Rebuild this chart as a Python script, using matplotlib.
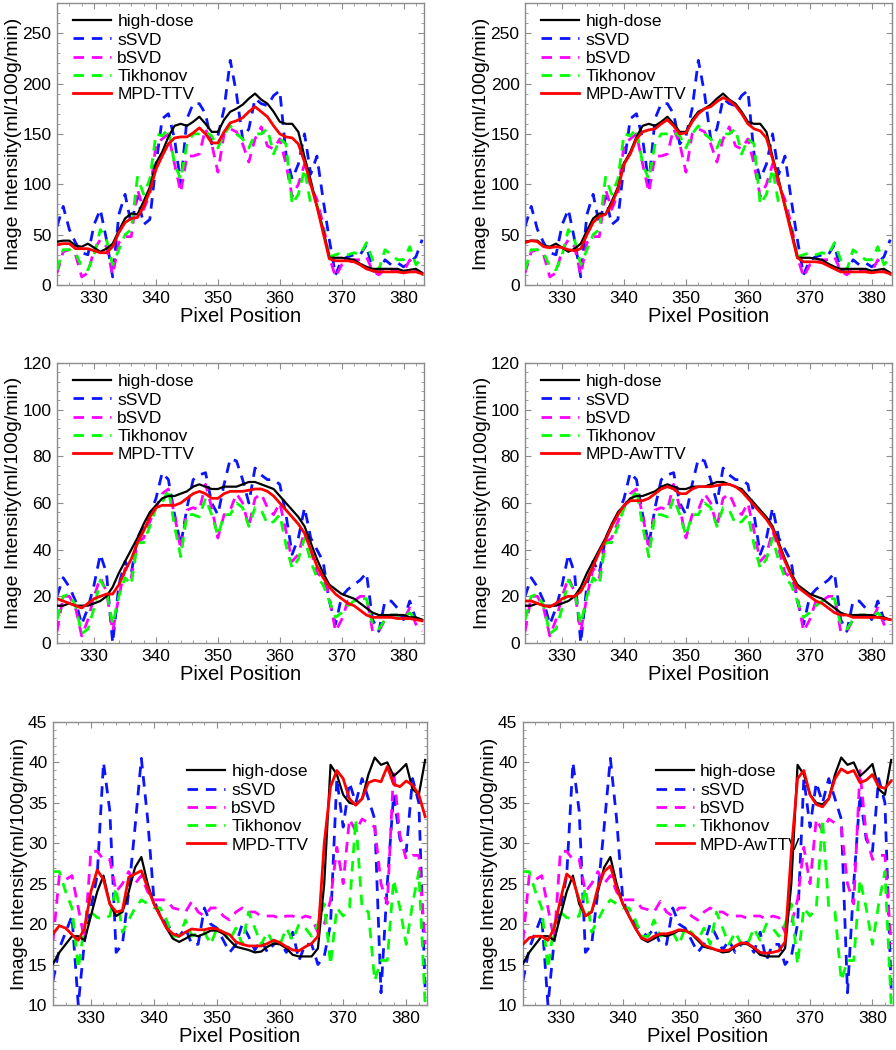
import matplotlib.pyplot as plt
import numpy as np
from matplotlib.ticker import MultipleLocator

plt.rcParams["font.family"] = ["Liberation Sans", "DejaVu Sans"]

x_pixels = np.arange(324, 384)

# ---- top row (0-280 scale)
hd_top = [43, 44, 44, 39, 38, 41, 37, 33, 36, 41,
          54, 66, 71, 70, 83, 97, 121, 132, 147, 158,
          160, 158, 162, 167, 160, 152, 152, 164, 172, 175,
          179, 185, 190, 184, 180, 172, 162, 160, 160, 152,
          127, 104, 78, 55, 27, 27, 27, 26, 25, 21,
          18, 16, 16, 16, 16, 16, 14, 15, 16, 12]
ssvd_top = [58, 78, 55, 42, 32, 30, 60, 75, 45, 8,
            70, 90, 60, 88, 60, 65, 120, 165, 170, 145,
            100, 165, 180, 180, 170, 140, 148, 175, 223, 190,
            145, 155, 185, 180, 178, 188, 193, 130, 105, 120,
            150, 110, 128, 85, 45, 10, 25, 28, 30, 30,
            40, 14, 13, 25, 20, 22, 18, 22, 28, 45]
bsvd_top = [12, 33, 35, 30, 8, 12, 35, 45, 38, 10,
            42, 48, 48, 95, 75, 90, 140, 145, 150, 120,
            92, 128, 128, 130, 155, 140, 112, 150, 155, 152,
            140, 122, 145, 157, 138, 135, 145, 120, 88, 100,
            120, 98, 85, 60, 28, 8, 20, 22, 25, 25,
            28, 14, 10, 16, 14, 15, 13, 25, 14, 12]
tik_top = [15, 35, 35, 32, 18, 15, 30, 55, 45, 20,
           35, 50, 55, 107, 90, 105, 150, 148, 155, 120,
           105, 140, 150, 150, 152, 148, 136, 150, 158, 150,
           145, 136, 150, 150, 155, 130, 145, 140, 80, 90,
           115, 80, 80, 55, 28, 30, 32, 30, 32, 30,
           42, 25, 15, 35, 30, 25, 25, 38, 20, 27]
ttv_top = [40, 41, 41, 36, 36, 36, 34, 32, 32, 38,
           52, 62, 66, 67, 78, 93, 115, 128, 140, 146,
           147, 147, 151, 156, 150, 141, 141, 152, 161, 163,
           166, 172, 177, 172, 167, 158, 150, 147, 146, 140,
           122, 100, 78, 52, 26, 24, 24, 24, 23, 20,
           16, 14, 13, 13, 13, 13, 12, 13, 13, 11]
awttv_top = [42, 44, 43, 38, 37, 38, 37, 35, 34, 36,
             50, 62, 68, 70, 80, 95, 120, 130, 145, 152,
             154, 155, 160, 164, 158, 150, 151, 162, 170, 175,
             177, 182, 186, 183, 178, 170, 160, 155, 153, 146,
             125, 102, 78, 52, 27, 23, 23, 23, 22, 19,
             16, 13, 13, 13, 13, 13, 12, 13, 13, 11]

# ---- middle row (0-120 scale)
hd_mid = [16, 16, 17, 16, 16, 16, 17, 18, 20, 24,
          30, 35, 40, 45, 51, 56, 59, 62, 63, 63,
          64, 65, 67, 68, 67, 66, 66, 67, 67, 67,
          68, 69, 69, 68, 67, 66, 63, 60, 57, 54,
          50, 43, 36, 30, 25, 23, 21, 20, 19, 17,
          15, 13, 12, 12, 12, 12, 12, 11, 11, 10]
ssvd_mid = [20, 28, 24, 18, 8, 15, 25, 38, 30, 0,
            25, 35, 30, 45, 50, 55, 62, 73, 70, 55,
            42, 58, 70, 72, 73, 60, 55, 68, 79, 78,
            70, 60, 75, 72, 70, 70, 68, 55, 38, 45,
            58, 45, 40, 35, 18, 8, 20, 23, 25, 27,
            30, 10, 5, 18, 18, 15, 10, 18, 10, 12]
bsvd_mid = [5, 20, 20, 15, 3, 10, 20, 28, 22, 5,
            20, 32, 28, 43, 45, 52, 58, 64, 66, 55,
            40, 57, 58, 57, 68, 58, 45, 55, 57, 64,
            60, 50, 62, 64, 58, 55, 60, 48, 35, 38,
            48, 40, 30, 28, 20, 5, 10, 18, 18, 20,
            20, 5, 5, 10, 12, 12, 10, 15, 8, 5]
tik_mid = [10, 20, 21, 16, 4, 6, 15, 27, 22, 8,
           20, 28, 25, 43, 43, 50, 58, 60, 66, 50,
           37, 55, 55, 54, 62, 55, 46, 55, 55, 60,
           58, 50, 58, 57, 51, 52, 55, 42, 32, 36,
           45, 35, 28, 25, 18, 11, 13, 16, 18, 19,
           19, 8, 6, 10, 12, 12, 11, 13, 10, 10]
ttv_mid = [19, 18, 17, 16, 15, 17, 19, 20, 21, 21,
           25, 31, 36, 43, 48, 54, 58, 59, 59, 59,
           60, 62, 64, 65, 64, 62, 62, 64, 65, 65,
           65, 65.5, 66, 66, 65, 63, 60, 57, 54, 51,
           47, 40, 33, 28, 24, 21, 19, 17, 16, 14,
           12, 11, 11, 11, 11, 10.5, 10.5, 10.5, 10, 9.5]
awttv_mid = [18, 18, 17, 16, 15.5, 17, 19, 20, 20, 22,
             27, 33, 39, 44, 50, 55, 59, 61, 61, 61,
             62, 64, 66, 67, 66, 64, 64, 66, 67, 67,
             67, 67.5, 68, 68, 67, 65, 62, 59, 56, 53,
             49, 42, 35, 29, 24, 22, 20, 18, 17, 15,
             13, 12, 12, 11, 11, 11, 11, 11, 10.5, 10]

# ---- bottom row (10-45 scale)
hd_bot = [15.1, 16.5, 17.5, 18.5, 18.5, 18, 21, 24, 26, 22.5,
          21, 21.5, 24, 27, 28.3, 25, 22.5, 21, 19.5, 18.2,
          17.8, 18.2, 18.7, 18.5, 18.8, 19.2, 19.2, 18.8, 18, 17.2,
          17, 16.8, 16.5, 16.6, 17.2, 17.6, 17.5, 17, 16.2, 16,
          16, 16, 17, 25, 39.7, 38.5, 36, 35, 34.8, 35.5,
          38.5, 40.6, 39.7, 40, 38.3, 39, 39.8, 36.7, 36, 40.3]
ssvd_bot = [13, 17, 19, 21, 10, 18, 22, 26, 40, 34,
            16.5, 17.5, 24, 32, 40.5, 33, 23, 21, 20, 19,
            18.5, 19.5, 17.5, 17.5, 22, 20, 19.5, 18, 16.5, 17.5,
            20, 18.5, 16.8, 18, 16.5, 17.5, 17.8, 16.5, 19, 15.5,
            17.5, 17.5, 15, 16, 20, 38, 32, 37.5, 35, 38,
            35.5, 33, 11.5, 25, 36, 30.5, 29, 38, 35, 12]
bsvd_bot = [18, 26, 25.5, 26, 22, 18, 29, 29, 28, 28,
            24, 25, 26.5, 25, 26, 24, 23, 23, 23, 22,
            21.8, 21.5, 22.8, 21.5, 21, 22, 22, 21, 20.5, 21.5,
            22, 21.5, 21.5, 21, 21, 21, 20.7, 21, 21, 20.6,
            21, 20.8, 19, 20, 23, 29.5, 25, 33, 31.5, 33,
            32.5, 32, 25, 22.5, 39, 31, 28, 28.5, 28.5, 17.5]
tik_bot = [26.5, 26.5, 24, 22, 14.5, 20, 21.5, 20.8, 20.7, 21,
           24.5, 19, 20.5, 22, 23, 22.5, 22, 22, 20.5, 18.5,
           18.5, 20.5, 18.5, 19, 19, 17.5, 19.5, 19, 18, 19.5,
           17.5, 21.5, 19.5, 17.5, 19, 17.5, 17.5, 19.5, 18, 20,
           19.5, 18.5, 20, 22.5, 15, 22, 21, 22, 33, 22,
           21.5, 13, 15.5, 15.5, 25.5, 22, 17.5, 22.5, 26.5, 10]
ttv_bot = [18.8, 19.8, 19.5, 18.7, 18, 19.5, 24, 26.7, 25.5, 22.5,
           21.5, 21.7, 25.8, 26.2, 26.6, 24.5, 22.5, 21, 19.5, 18.8,
           18.5, 19, 19.4, 19.3, 19.3, 19.5, 19.4, 19, 18.7, 17.8,
           17.5, 17.3, 17.3, 17.3, 17.6, 18, 17.7, 17.2, 16.8, 16.7,
           17.2, 17.6, 18.5, 30, 37, 39, 38, 35.5, 34.7, 35.5,
           37.5, 37.8, 37.6, 39.5, 37.3, 37, 37.7, 37.2, 36, 33.3]
awttv_bot = [17.5, 18.3, 18.5, 18.5, 18, 19.5, 23, 26.2, 25.5, 23,
             21, 21.5, 24.5, 26.5, 27.2, 24.5, 22.5, 21, 19.5, 18.3,
             18, 18.5, 18.8, 18.8, 19, 19.3, 19.2, 18.8, 18.2, 17.4,
             17.1, 16.8, 16.7, 16.8, 17.3, 17.7, 17.6, 17.1, 16.5, 16.4,
             16.5, 16.7, 17.8, 29, 38, 39, 36, 34.8, 34.5, 35.5,
             38, 39.2, 38.7, 39, 37.5, 37.8, 38.5, 37, 36.8, 37.7]

frame_color = "#8c8c8c"


def draw_panel(ax, hd, ssvd, bsvd, tik, red, red_label, ylim, ymajor, yminor, leg_anchor):
    dash = (3.8, 2.8)
    ax.plot(x_pixels, hd, color="black", lw=1.6, label="high-dose", zorder=5)
    ax.plot(x_pixels, ssvd, color="#0a14ff", lw=2.0, dashes=dash, label="sSVD", zorder=2)
    ax.plot(x_pixels, bsvd, color="#ff00ff", lw=2.0, dashes=dash, label="bSVD", zorder=3)
    ax.plot(x_pixels, tik, color="#00ff00", lw=2.0, dashes=dash, label="Tikhonov", zorder=4)
    ax.plot(x_pixels, red, color="#ff0000", lw=2.0, label=red_label, zorder=6)

    ax.set_xlim(324, 383.3)
    ax.set_ylim(*ylim)
    ax.xaxis.set_major_locator(MultipleLocator(10))
    ax.xaxis.set_minor_locator(MultipleLocator(2))
    ax.yaxis.set_major_locator(MultipleLocator(ymajor))
    ax.yaxis.set_minor_locator(MultipleLocator(yminor))
    ax.tick_params(which="both", direction="in", top=True, right=True,
                   color=frame_color, labelsize=12.5, labelcolor="black")
    ax.tick_params(which="major", length=4, pad=4)
    ax.tick_params(which="minor", length=2)
    for s in ax.spines.values():
        s.set_color(frame_color)
        s.set_linewidth(1.0)

    ax.set_xlabel("Pixel Position", fontsize=14.5, labelpad=1)
    ax.set_ylabel("Image Intensity(ml/100g/min)", fontsize=14, labelpad=0)
    ax.legend(loc="upper left", bbox_to_anchor=leg_anchor, frameon=False,
              fontsize=12.5, handlelength=2.2, handletextpad=0.35,
              labelspacing=0.18, borderaxespad=0.0)


fig = plt.figure(figsize=(8.96, 10.5), dpi=100)

ax_tl = fig.add_axes([0.0636, 0.7286, 0.4096, 0.2686])
ax_tr = fig.add_axes([0.586, 0.7286, 0.4096, 0.2686])
ax_ml = fig.add_axes([0.0636, 0.3876, 0.4096, 0.2667])
ax_mr = fig.add_axes([0.586, 0.3876, 0.4096, 0.2667])
ax_bl = fig.add_axes([0.0592, 0.0429, 0.4174, 0.2695])
ax_br = fig.add_axes([0.5837, 0.0429, 0.413, 0.2695])

draw_panel(ax_tl, hd_top, ssvd_top, bsvd_top, tik_top, ttv_top, "MPD-TTV",
           (0, 280), 50, 10, (0.025, 0.985))
draw_panel(ax_tr, hd_top, ssvd_top, bsvd_top, tik_top, awttv_top, "MPD-AwTTV",
           (0, 280), 50, 10, (0.025, 0.985))
draw_panel(ax_ml, hd_mid, ssvd_mid, bsvd_mid, tik_mid, ttv_mid, "MPD-TTV",
           (0, 120), 20, 4, (0.025, 0.985))
draw_panel(ax_mr, hd_mid, ssvd_mid, bsvd_mid, tik_mid, awttv_mid, "MPD-AwTTV",
           (0, 120), 20, 4, (0.025, 0.985))
draw_panel(ax_bl, hd_bot, ssvd_bot, bsvd_bot, tik_bot, ttv_bot, "MPD-TTV",
           (10, 45), 5, 1, (0.34, 0.875))
draw_panel(ax_br, hd_bot, ssvd_bot, bsvd_bot, tik_bot, awttv_bot, "MPD-AwTTV",
           (10, 45), 5, 1, (0.34, 0.875))

fig.savefig("out.png", dpi=100)
